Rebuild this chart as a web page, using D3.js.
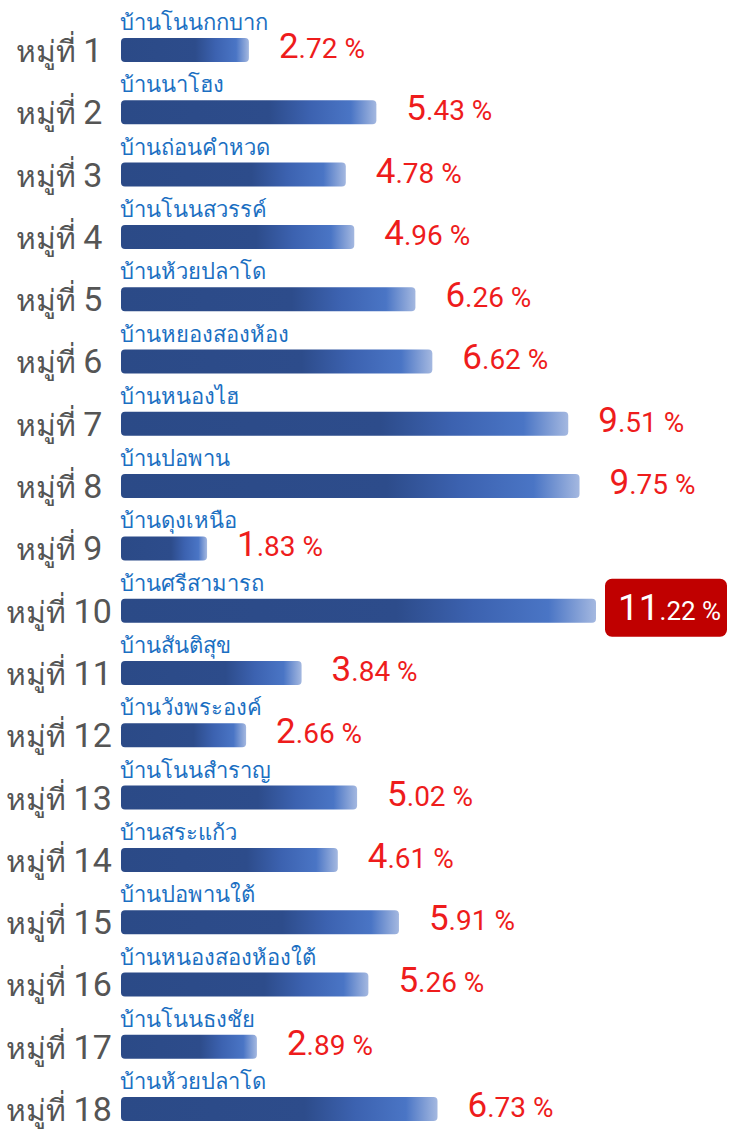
<!DOCTYPE html>
<html>
<head>
<meta charset="utf-8">
<script src="https://cdn.jsdelivr.net/npm/d3@7"></script>
<style>
  html, body { margin: 0; padding: 0; background: #ffffff; }
  svg { display: block; }
  text { font-family: Roboto, "Noto Sans", "Open Sans", sans-serif; }
</style>
</head>
<body>
<script>
const rowLabels = ["หมู่ที่ 1","หมู่ที่ 2","หมู่ที่ 3","หมู่ที่ 4","หมู่ที่ 5","หมู่ที่ 6","หมู่ที่ 7","หมู่ที่ 8","หมู่ที่ 9","หมู่ที่ 10","หมู่ที่ 11","หมู่ที่ 12","หมู่ที่ 13","หมู่ที่ 14","หมู่ที่ 15","หมู่ที่ 16","หมู่ที่ 17","หมู่ที่ 18"];
const villages = ["บ้านโนนกกบาก","บ้านนาโฮง","บ้านถ่อนคำหวด","บ้านโนนสวรรค์","บ้านห้วยปลาโด","บ้านหยองสองห้อง","บ้านหนองไฮ","บ้านปอพาน","บ้านดุงเหนือ","บ้านศรีสามารถ","บ้านสันติสุข","บ้านวังพระองค์","บ้านโนนสำราญ","บ้านสระแก้ว","บ้านปอพานใต้","บ้านหนองสองห้องใต้","บ้านโนนธงชัย","บ้านห้วยปลาโด"];
const percents = [2.72, 5.43, 4.78, 4.96, 6.26, 6.62, 9.51, 9.75, 1.83, 11.22, 3.84, 2.66, 5.02, 4.61, 5.91, 5.26, 2.89, 6.73];

const W = 737, H = 1129;
const svg = d3.select("body").append("svg").attr("width", W).attr("height", H);

const defs = svg.append("defs");
const grad = defs.append("linearGradient").attr("id", "barGrad")
  .attr("x1", "0%").attr("x2", "100%").attr("y1", "0%").attr("y2", "0%");
[[0, "#2b4a87"], [0.58, "#2d4c8b"], [0.74, "#3c62b0"], [0.9, "#4a75c5"], [1, "#a4b8e0"]]
  .forEach(([o, c]) => grad.append("stop").attr("offset", o).attr("stop-color", c));

const y = d3.scaleBand().domain(rowLabels).range([38, 1121.1]).paddingInner(0.6148).paddingOuter(0);
const x = d3.scaleLinear().domain([0, 10.1]).range([121, 596]).clamp(true);
const maxVal = d3.max(percents);

const data = rowLabels.map((r, i) => ({ row: r, name: villages[i], v: percents[i] }));

const g = svg.append("g");

// row labels
const rl = g.selectAll("text.row").data(data).join("text")
  .attr("class", "row")
  .attr("x", 59)
  .attr("y", d => y(d.row) + y.bandwidth())
  .attr("text-anchor", "middle")
  .attr("fill", "#555555");
rl.append("tspan").attr("font-size", 30).text(d => d.row.split(" ")[0] + " ");
rl.append("tspan").attr("font-size", 34).text(d => d.row.split(" ")[1]);

// village names
g.selectAll("text.name").data(data).join("text")
  .attr("class", "name")
  .attr("x", x(0) - 1)
  .attr("y", d => y(d.row) - 8)
  .attr("fill", "#1b6fc2")
  .attr("font-size", 22)
  .text(d => d.name);

// bars
g.selectAll("rect.bar").data(data).join("rect")
  .attr("class", "bar")
  .attr("x", x(0))
  .attr("y", d => y(d.row))
  .attr("width", d => x(d.v) - x(0))
  .attr("height", y.bandwidth())
  .attr("rx", 4)
  .attr("fill", "url(#barGrad)");

// highlight box for max
const hi = data.filter(d => d.v === maxVal);
g.selectAll("rect.hi").data(hi).join("rect")
  .attr("class", "hi")
  .attr("x", d => x(d.v) + 9)
  .attr("y", d => y(d.row) + y.bandwidth() / 2 - 32)
  .attr("width", 122)
  .attr("height", 58)
  .attr("rx", 7)
  .attr("fill", "#c00000");

// value labels
const vl = g.selectAll("text.val").data(data).join("text")
  .attr("class", "val")
  .attr("x", d => d.v === maxVal ? x(d.v) + 22 : x(d.v) + 30)
  .attr("y", d => d.v === maxVal ? y(d.row) + y.bandwidth() - 3 : y(d.row) + y.bandwidth() - 4)
  .attr("fill", d => d.v === maxVal ? "#ffffff" : "#ee1c1c");
vl.append("tspan")
  .attr("font-size", d => d.v === maxVal ? 37 : 35)
  .text(d => d.v.toFixed(2).split(".")[0]);
vl.append("tspan")
  .attr("font-size", d => d.v === maxVal ? 26 : 28)
  .text(d => "." + d.v.toFixed(2).split(".")[1] + " %");
</script>
</body>
</html>
